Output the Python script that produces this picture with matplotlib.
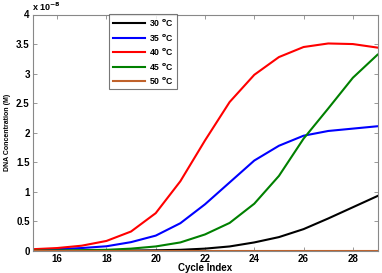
import matplotlib
matplotlib.use("Agg")
import matplotlib.pyplot as plt
import numpy as np

plt.rcParams['font.family'] = ['Liberation Sans', 'DejaVu Sans']
plt.rcParams['font.weight'] = 'bold'

# data (values in units of 1e-8 M)
cycles = np.arange(15, 30)
conc_30 = [0.0, 0.0, 0.0, 0.005, 0.008, 0.012, 0.02, 0.04, 0.077, 0.145, 0.235, 0.37, 0.55, 0.74, 0.93]
conc_35 = [0.02, 0.03, 0.05, 0.08, 0.15, 0.26, 0.47, 0.79, 1.16, 1.53, 1.78, 1.95, 2.03, 2.07, 2.11]
conc_40 = [0.03, 0.05, 0.09, 0.17, 0.33, 0.64, 1.18, 1.87, 2.52, 2.98, 3.28, 3.45, 3.51, 3.50, 3.44]
conc_45 = [0.005, 0.01, 0.015, 0.02, 0.04, 0.077, 0.145, 0.28, 0.475, 0.80, 1.27, 1.90, 2.41, 2.93, 3.32]
conc_50 = [0.002] * 15
labels = ["30 $^{\\mathbf{o}}$C", "35 $^{\\mathbf{o}}$C", "40 $^{\\mathbf{o}}$C",
          "45 $^{\\mathbf{o}}$C", "50 $^{\\mathbf{o}}$C"]
colors = ["k", "#0000ff", "#ff0000", "#008000", "#c0622b"]

fig = plt.figure(figsize=(3.82, 2.73), dpi=100)
ax = fig.add_axes([32.5 / 382, 22 / 273, 345 / 382, 236.5 / 273])

for ys, c, lab in zip([conc_30, conc_35, conc_40, conc_45, conc_50], colors, labels):
    ax.plot(cycles, ys, color=c, linewidth=1.5, label=lab)

ax.set_xlim(15, 29)
ax.set_ylim(0, 4)
ax.set_xticks([16, 18, 20, 22, 24, 26, 28])
ax.set_yticks(np.arange(0, 4.01, 0.5))
ax.set_yticklabels(["0", "0.5", "1", "1.5", "2", "2.5", "3", "3.5", "4"])
ax.tick_params(direction='in', top=True, right=True, labelsize=7, length=3,
               color='#888888', width=0.6, pad=2)
for s in ax.spines.values():
    s.set_color('#888888')
    s.set_linewidth(0.8)

ax.set_xlabel("Cycle Index", fontsize=7, fontweight='bold', labelpad=-0.5)
ax.set_ylabel("DNA Concentration (M)", fontsize=5, fontweight='bold', labelpad=4)
ax.text(0.0, 1.008, "x 10$^{\\mathbf{-8}}$", transform=ax.transAxes, fontsize=6.5,
        fontweight='bold', ha='left', va='bottom')

leg = ax.legend(loc='upper left', bbox_to_anchor=(0.222, 1.003), fontsize=6.2,
                frameon=True, fancybox=False, handlelength=3.8, handletextpad=0.4,
                labelspacing=0.4, borderpad=0.4, borderaxespad=0)
leg.get_frame().set_edgecolor('#555555')
leg.get_frame().set_linewidth(0.8)

fig.savefig("out.png", dpi=100)
